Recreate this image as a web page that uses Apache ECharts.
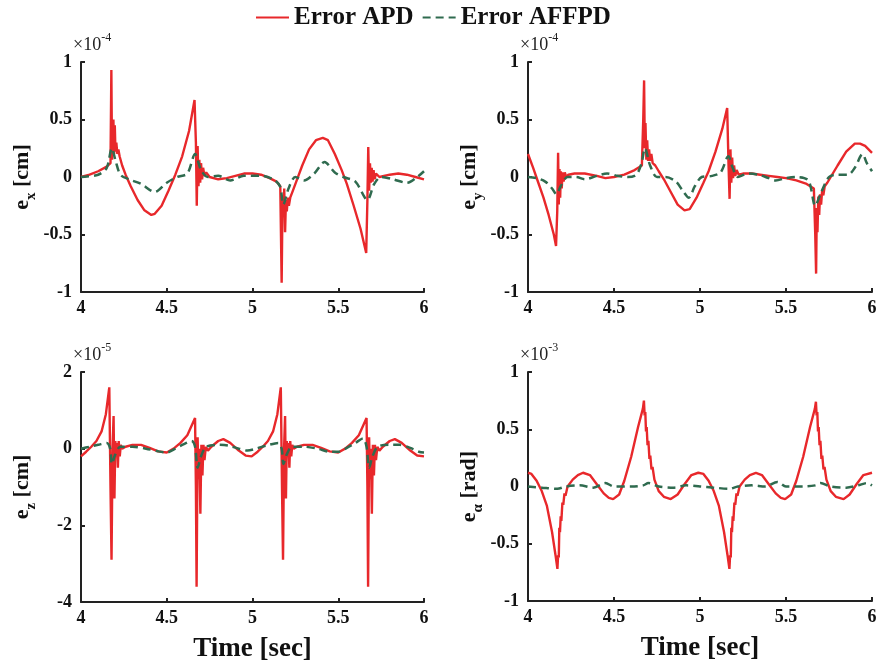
<!DOCTYPE html>
<html>
<head>
<meta charset="utf-8">
<script src="https://cdn.jsdelivr.net/npm/echarts@6/dist/echarts.min.js"></script>
<style>
  html, body { margin: 0; padding: 0; background: #fff; }
  #chart { width: 882px; height: 664px; }
</style>
</head>
<body>
<div id="chart"></div>
<script>
// e_x (x1e-4 cm)
const exTimeAPD = [4.000, 4.050, 4.100, 4.150, 4.172, 4.177, 4.181, 4.185, 4.189, 4.193, 4.197, 4.201, 4.206, 4.212, 4.218, 4.225, 4.240, 4.260, 4.290, 4.330, 4.370, 4.410, 4.430, 4.470, 4.510, 4.550, 4.590, 4.630, 4.662, 4.670, 4.675, 4.680, 4.685, 4.690, 4.695, 4.700, 4.706, 4.712, 4.720, 4.730, 4.750, 4.800, 4.850, 4.900, 4.950, 5.000, 5.050, 5.100, 5.140, 5.162, 5.170, 5.175, 5.180, 5.185, 5.190, 5.195, 5.200, 5.206, 5.212, 5.220, 5.235, 5.260, 5.290, 5.330, 5.370, 5.410, 5.440, 5.480, 5.520, 5.550, 5.590, 5.630, 5.663, 5.670, 5.675, 5.680, 5.685, 5.690, 5.695, 5.700, 5.706, 5.712, 5.720, 5.740, 5.800, 5.850, 5.900, 5.950, 6.000];
const exAPD = [0.00, 0.02, 0.05, 0.09, 0.12, 0.93, 0.15, 0.30, 0.50, 0.20, 0.45, 0.22, 0.30, 0.20, 0.24, 0.18, 0.10, 0.02, -0.08, -0.20, -0.29, -0.33, -0.32, -0.25, -0.12, 0.02, 0.18, 0.40, 0.67, 0.30, -0.25, 0.27, -0.08, 0.15, -0.05, 0.12, -0.02, 0.08, 0.01, 0.04, 0.00, -0.02, -0.01, 0.01, 0.03, 0.03, 0.02, -0.01, -0.04, -0.08, -0.92, -0.20, -0.35, -0.10, -0.48, -0.20, -0.30, -0.18, -0.25, -0.18, -0.12, -0.02, 0.10, 0.24, 0.32, 0.34, 0.32, 0.20, 0.06, -0.06, -0.25, -0.45, -0.66, -0.20, 0.26, -0.12, 0.12, -0.05, 0.08, -0.04, 0.06, -0.02, 0.03, 0.00, 0.02, 0.03, 0.02, 0.00, -0.02];
const exTimeAFFPD = [4.00, 4.10, 4.15, 4.18, 4.20, 4.23, 4.28, 4.35, 4.43, 4.50, 4.56, 4.62, 4.665, 4.70, 4.74, 4.80, 4.87, 4.95, 5.05, 5.12, 5.16, 5.18, 5.21, 5.25, 5.30, 5.36, 5.42, 5.48, 5.53, 5.60, 5.67, 5.71, 5.75, 5.82, 5.90, 5.96, 6.00];
const exAFFPD = [0.00, 0.02, 0.08, 0.25, 0.15, 0.02, -0.02, -0.06, -0.13, -0.05, 0.00, 0.03, 0.20, 0.06, 0.00, 0.01, -0.03, 0.01, 0.01, -0.02, -0.08, -0.24, -0.10, 0.00, -0.03, 0.03, 0.13, 0.04, 0.00, -0.04, -0.20, -0.06, 0.00, -0.02, -0.05, 0.00, 0.05];

// e_y (x1e-4 cm)
const eyTimeAPD = [4.000, 4.030, 4.060, 4.090, 4.120, 4.150, 4.163, 4.170, 4.175, 4.179, 4.183, 4.187, 4.191, 4.196, 4.201, 4.207, 4.214, 4.222, 4.235, 4.270, 4.330, 4.400, 4.450, 4.500, 4.560, 4.620, 4.662, 4.670, 4.675, 4.679, 4.683, 4.688, 4.693, 4.698, 4.704, 4.710, 4.717, 4.725, 4.740, 4.760, 4.790, 4.830, 4.870, 4.910, 4.940, 4.980, 5.020, 5.050, 5.090, 5.130, 5.158, 5.166, 5.172, 5.177, 5.182, 5.187, 5.192, 5.198, 5.205, 5.213, 5.225, 5.250, 5.300, 5.350, 5.400, 5.450, 5.500, 5.560, 5.620, 5.662, 5.670, 5.675, 5.679, 5.683, 5.688, 5.693, 5.698, 5.704, 5.710, 5.717, 5.725, 5.740, 5.760, 5.800, 5.850, 5.900, 5.930, 5.960, 6.000];
const eyAPD = [0.20, 0.08, -0.05, -0.18, -0.33, -0.50, -0.60, -0.30, 0.21, -0.24, 0.07, -0.18, 0.05, -0.10, 0.04, -0.04, 0.04, 0.00, 0.02, 0.03, 0.03, 0.01, -0.01, 0.00, 0.02, 0.06, 0.10, 0.50, 0.84, 0.25, 0.47, 0.15, 0.32, 0.14, 0.24, 0.14, 0.20, 0.12, 0.10, 0.05, -0.02, -0.13, -0.24, -0.29, -0.28, -0.18, -0.05, 0.05, 0.22, 0.42, 0.60, 0.10, -0.19, 0.24, -0.05, 0.17, -0.01, 0.10, 0.01, 0.06, 0.02, 0.03, 0.03, 0.02, 0.01, 0.00, -0.01, -0.03, -0.06, -0.10, -0.50, -0.84, -0.27, -0.48, -0.17, -0.33, -0.15, -0.24, -0.12, -0.16, -0.08, -0.05, 0.00, 0.10, 0.22, 0.29, 0.29, 0.27, 0.21];
const eyTimeAFFPD = [4.00, 4.05, 4.10, 4.14, 4.165, 4.19, 4.23, 4.28, 4.33, 4.40, 4.46, 4.52, 4.58, 4.63, 4.66, 4.68, 4.71, 4.75, 4.80, 4.86, 4.90, 4.935, 4.97, 5.01, 5.07, 5.12, 5.165, 5.19, 5.22, 5.28, 5.34, 5.40, 5.44, 5.50, 5.56, 5.63, 5.67, 5.70, 5.75, 5.80, 5.86, 5.90, 5.945, 5.97, 6.00];
const eyAFFPD = [0.00, -0.01, -0.04, -0.10, -0.15, -0.08, 0.00, 0.00, -0.02, 0.01, 0.03, 0.01, 0.00, 0.02, 0.12, 0.25, 0.10, 0.00, 0.00, -0.04, -0.12, -0.18, -0.08, 0.00, 0.01, 0.04, 0.18, 0.08, 0.00, 0.03, 0.02, -0.01, -0.03, -0.01, 0.00, -0.03, -0.25, -0.15, 0.00, 0.02, 0.02, 0.08, 0.20, 0.12, 0.05];

// e_z (x1e-5 cm)
const ezTimeAPD = [4.000, 4.030, 4.060, 4.090, 4.120, 4.145, 4.165, 4.172, 4.178, 4.184, 4.190, 4.195, 4.200, 4.205, 4.210, 4.215, 4.220, 4.226, 4.232, 4.240, 4.260, 4.300, 4.350, 4.400, 4.450, 4.500, 4.540, 4.580, 4.620, 4.665, 4.670, 4.674, 4.680, 4.685, 4.690, 4.696, 4.702, 4.708, 4.714, 4.720, 4.728, 4.740, 4.760, 4.800, 4.830, 4.870, 4.920, 4.960, 4.995, 5.030, 5.060, 5.090, 5.120, 5.145, 5.165, 5.172, 5.178, 5.184, 5.190, 5.195, 5.200, 5.205, 5.210, 5.215, 5.220, 5.226, 5.232, 5.240, 5.260, 5.300, 5.350, 5.400, 5.450, 5.500, 5.540, 5.580, 5.620, 5.665, 5.670, 5.674, 5.680, 5.685, 5.690, 5.696, 5.702, 5.708, 5.714, 5.720, 5.728, 5.740, 5.760, 5.800, 5.830, 5.870, 5.920, 5.960, 6.000];
const ezAPD = [-0.20, -0.08, 0.05, 0.20, 0.45, 0.90, 1.60, -1.00, -2.90, 0.00, 0.85, -1.30, 0.20, -0.20, 0.15, -0.50, 0.20, -0.20, 0.10, 0.00, 0.05, 0.10, 0.10, 0.02, -0.07, -0.10, 0.00, 0.15, 0.35, 0.80, -1.00, -3.60, 0.30, -0.80, 0.00, -1.70, 0.10, -0.70, 0.10, -0.30, 0.05, -0.05, 0.05, 0.20, 0.25, 0.15, -0.05, -0.18, -0.20, -0.08, 0.05, 0.20, 0.45, 0.90, 1.60, -1.00, -2.90, 0.00, 0.85, -1.30, 0.20, -0.20, 0.15, -0.50, 0.20, -0.20, 0.10, 0.00, 0.05, 0.10, 0.10, 0.02, -0.07, -0.10, 0.00, 0.15, 0.35, 0.80, -1.00, -3.60, 0.30, -0.80, 0.00, -1.70, 0.10, -0.70, 0.10, -0.30, 0.05, -0.05, 0.05, 0.20, 0.25, 0.15, -0.05, -0.18, -0.20];
const ezTimeAFFPD = [4.00, 4.05, 4.10, 4.15, 4.17, 4.18, 4.20, 4.23, 4.30, 4.38, 4.45, 4.50, 4.55, 4.60, 4.645, 4.665, 4.68, 4.70, 4.73, 4.80, 4.86, 4.92, 4.97, 5.02, 5.08, 5.15, 5.17, 5.18, 5.20, 5.23, 5.30, 5.38, 5.45, 5.50, 5.55, 5.60, 5.645, 5.665, 5.68, 5.70, 5.73, 5.80, 5.86, 5.92, 5.97, 6.00];
const ezAFFPD = [0.00, 0.05, 0.10, 0.15, 0.00, -0.40, -0.15, 0.05, 0.05, 0.00, -0.07, -0.10, 0.00, 0.12, 0.20, 0.05, -0.50, -0.20, 0.05, 0.10, 0.08, 0.00, -0.05, 0.00, 0.08, 0.15, 0.00, -0.40, -0.15, 0.05, 0.05, 0.00, -0.08, -0.08, 0.02, 0.15, 0.27, 0.05, -0.50, -0.20, 0.05, 0.10, 0.10, 0.02, -0.08, -0.10];

// e_alpha (x1e-3 rad)
const eaTimeAPD = [4.000, 4.020, 4.050, 4.080, 4.110, 4.140, 4.160, 4.171, 4.175, 4.179, 4.182, 4.186, 4.190, 4.194, 4.200, 4.205, 4.212, 4.218, 4.230, 4.260, 4.290, 4.320, 4.360, 4.400, 4.440, 4.470, 4.495, 4.530, 4.560, 4.600, 4.640, 4.668, 4.674, 4.678, 4.682, 4.686, 4.690, 4.695, 4.700, 4.706, 4.711, 4.718, 4.724, 4.735, 4.760, 4.790, 4.830, 4.870, 4.910, 4.950, 4.990, 5.020, 5.050, 5.080, 5.110, 5.140, 5.160, 5.171, 5.175, 5.179, 5.182, 5.186, 5.190, 5.194, 5.200, 5.205, 5.212, 5.218, 5.230, 5.260, 5.290, 5.325, 5.360, 5.400, 5.440, 5.470, 5.495, 5.530, 5.560, 5.600, 5.640, 5.668, 5.674, 5.678, 5.682, 5.686, 5.690, 5.695, 5.700, 5.706, 5.711, 5.718, 5.724, 5.735, 5.760, 5.790, 5.835, 5.870, 5.910, 5.950, 6.000];
const eaAPD = [0.12, 0.11, 0.05, -0.04, -0.17, -0.40, -0.60, -0.72, -0.60, -0.62, -0.36, -0.40, -0.26, -0.30, -0.14, -0.16, -0.06, -0.08, 0.00, 0.06, 0.10, 0.12, 0.10, 0.02, -0.06, -0.10, -0.11, -0.07, 0.05, 0.26, 0.52, 0.68, 0.75, 0.62, 0.65, 0.48, 0.52, 0.36, 0.40, 0.24, 0.27, 0.15, 0.17, 0.06, -0.04, -0.09, -0.11, -0.07, 0.02, 0.10, 0.12, 0.11, 0.05, -0.04, -0.17, -0.40, -0.60, -0.72, -0.60, -0.62, -0.36, -0.40, -0.26, -0.30, -0.14, -0.16, -0.06, -0.08, 0.00, 0.06, 0.10, 0.12, 0.10, 0.02, -0.06, -0.10, -0.11, -0.07, 0.05, 0.26, 0.52, 0.68, 0.74, 0.62, 0.65, 0.48, 0.52, 0.36, 0.40, 0.24, 0.27, 0.15, 0.17, 0.06, -0.04, -0.09, -0.11, -0.07, 0.02, 0.10, 0.12];
const eaTimeAFFPD = [4.00, 4.08, 4.17, 4.22, 4.30, 4.38, 4.45, 4.50, 4.60, 4.67, 4.70, 4.76, 4.85, 4.92, 5.00, 5.08, 5.17, 5.22, 5.30, 5.38, 5.45, 5.50, 5.60, 5.67, 5.70, 5.76, 5.85, 5.92, 5.97, 6.00];
const eaAFFPD = [0.00, -0.01, -0.02, 0.00, 0.01, -0.01, 0.03, 0.00, 0.00, 0.01, 0.03, 0.00, -0.01, 0.01, 0.00, -0.01, -0.02, 0.00, 0.01, 0.00, 0.04, 0.00, 0.00, 0.01, 0.03, 0.00, -0.01, 0.01, 0.03, 0.01];

const panelRanges = [[-1, 1, 0.5], [-1, 1, 0.5], [-4, 2, 2], [-1, 1, 0.5]];
const panelExponents = ['-4', '-4', '-5', '-3'];
const panelSubs = ['x', 'y', 'z', 'α'];
const panelUnits = ['[cm]', '[cm]', '[cm]', '[rad]'];

const FONT = 'Liberation Serif';
const RED = '#e8282b';
const GREEN = '#2f6b4f';

function zip(ts, vs) {
    return ts.map((t, i) => [t, vs[i]]);
}

const grids = [
    { left: 81, top: 62, width: 343, height: 230 },
    { left: 528, top: 62, width: 344, height: 230 },
    { left: 81, top: 372, width: 343, height: 231 },
    { left: 528, top: 372, width: 344, height: 229 }
];

const xAxes = grids.map((g, i) => ({
    type: 'value',
    gridIndex: i,
    min: 4,
    max: 6,
    interval: 0.5,
    name: i >= 2 ? 'Time [sec]' : '',
    nameLocation: 'middle',
    nameGap: 34,
    nameTextStyle: { fontFamily: FONT, fontWeight: 'bold', fontSize: 27, color: '#111' },
    axisLine: { onZero: false, lineStyle: { color: '#222', width: 2 } },
    axisTick: { inside: true, length: 4, lineStyle: { color: '#222', width: 2 } },
    axisLabel: { fontFamily: FONT, fontWeight: 'bold', fontSize: 18, color: '#111', margin: 7 },
    splitLine: { show: false }
}));

const yAxes = grids.map((g, i) => ({
    type: 'value',
    gridIndex: i,
    min: panelRanges[i][0],
    max: panelRanges[i][1],
    interval: panelRanges[i][2],
    name: '{m|e}{s|' + panelSubs[i] + '}{m| ' + panelUnits[i] + '}',
    nameLocation: 'middle',
    nameRotate: 90,
    nameGap: 42,
    nameTextStyle: {
        rich: {
            m: { fontFamily: FONT, fontWeight: 'bold', fontSize: 22, color: '#111', padding: [0, 0, 6, 0], verticalAlign: 'bottom' },
            s: { fontFamily: FONT, fontWeight: 'bold', fontSize: 15, color: '#111', verticalAlign: 'bottom' }
        }
    },
    axisLine: { onZero: false, lineStyle: { color: '#222', width: 2 } },
    axisTick: { inside: true, length: 4, lineStyle: { color: '#222', width: 2 } },
    axisLabel: { fontFamily: FONT, fontWeight: 'bold', fontSize: 18, color: '#111', margin: 9 },
    splitLine: { show: false }
}));

const panels = [
    [exTimeAPD, exAPD, exTimeAFFPD, exAFFPD],
    [eyTimeAPD, eyAPD, eyTimeAFFPD, eyAFFPD],
    [ezTimeAPD, ezAPD, ezTimeAFFPD, ezAFFPD],
    [eaTimeAPD, eaAPD, eaTimeAFFPD, eaAFFPD]
];

const series = [];
panels.forEach((p, i) => {
    series.push({
        name: 'Error APD',
        type: 'line',
        xAxisIndex: i,
        yAxisIndex: i,
        data: zip(p[0], p[1]),
        symbol: 'none',
        lineStyle: { color: RED, width: 2.4 },
        itemStyle: { color: RED },
        z: 3
    });
    series.push({
        name: 'Error AFFPD',
        type: 'line',
        xAxisIndex: i,
        yAxisIndex: i,
        data: zip(p[2], p[3]),
        symbol: 'none',
        smooth: 0.3,
        lineStyle: { color: GREEN, width: 2.5, type: [8, 5] },
        itemStyle: { color: GREEN },
        z: 4
    });
});

// x10^n labels above each y axis
const graphic = grids.map((g, i) => ({
    type: 'text',
    left: g.left - 8,
    top: g.top - 30,
    style: {
        text: '{a|×10}{b|' + panelExponents[i] + '}',
        rich: {
            a: { fontFamily: FONT, fontSize: 18, fill: '#222', verticalAlign: 'bottom', lineHeight: 22 },
            b: { fontFamily: FONT, fontSize: 12, fill: '#222', verticalAlign: 'top' }
        }
    }
}));

const chart = echarts.init(document.getElementById('chart'));
chart.setOption({
    animation: false,
    backgroundColor: '#fff',
    legend: {
        data: ['Error APD', 'Error AFFPD'],
        top: 0,
        left: 250,
        itemWidth: 33,
        itemHeight: 12,
        itemGap: 8,
        itemStyle: { opacity: 0 },
        textStyle: { fontFamily: FONT, fontWeight: 'bold', fontSize: 25, color: '#111' }
    },
    grid: grids,
    xAxis: xAxes,
    yAxis: yAxes,
    series: series,
    graphic: graphic
});
</script>
</body>
</html>
